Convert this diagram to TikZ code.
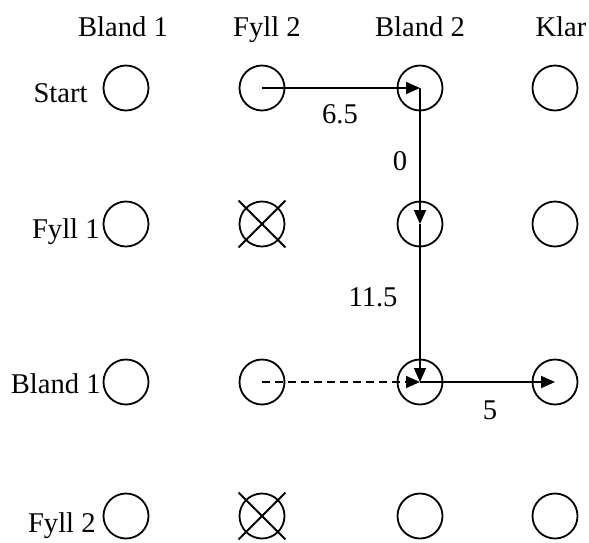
\documentclass[tikz,border=0pt]{standalone}
\usepackage{fontspec}
\setmainfont{Liberation Serif}
\usetikzlibrary{arrows.meta}
\begin{document}
\begin{tikzpicture}[x=0.5pt,y=-0.5pt,
  font=\fontsize{14.3}{17}\selectfont,
  state/.style={draw,circle,minimum size=22.5pt,inner sep=0pt,line width=0.9pt},
  txt/.style={inner sep=0pt},
  rowlabel/.style={inner sep=0pt,anchor=base east},
  head/.style={inner sep=0pt,anchor=base},
  link/.style={line width=0.9pt,-{Triangle[length=7pt,width=6pt]}},
  cross/.style={line width=0.9pt}]
\useasboundingbox (0,0) rectangle (589,542);

% column headings
\node[head] (h1) at (123,36) {Bland 1};
\node[head] (h2) at (267,36) {Fyll 2};
\node[head] (h3) at (420,36) {Bland 2};
\node[head] (h4) at (561,36) {Klar};

% row headings
\node[rowlabel] (r1) at (88,102) {Start};
\node[rowlabel] (r2) at (100,238) {Fyll 1};
\node[rowlabel] (r3) at (101,393) {Bland 1};
\node[rowlabel] (r4) at (96,532) {Fyll 2};

% states
\foreach \r/\y in {1/88,2/224,3/382,4/516}{
  \foreach \c/\x in {1/126,2/262,3/420,4/555}{
    \node[state] (s\r\c) at (\x,\y) {};
  }
}

% blocked states
\foreach \n in {s22,s42}{
  \draw[cross] (\n.center) ++(-11.7pt,11.7pt) -- ++(23.4pt,-23.4pt);
  \draw[cross] (\n.center) ++(-11.7pt,-11.7pt) -- ++(23.4pt,23.4pt);
}

% transitions
\draw[link] (s12.center) -- (s13.center);
\draw[link] (s13.center) -- (s23.center);
\draw[link] (s23.center) -- (s33.center);
\draw[link] (s33.center) -- (s34.center);
\draw[link,dash pattern=on 4pt off 2.5pt] (s32.center) -- (s33.center);

% durations
\node[txt] (d1) at (340,114) {6.5};
\node[txt] (d2) at (400,161) {0};
\node[txt] (d3) at (373,297) {11.5};
\node[txt] (d4) at (490,410) {5};
\end{tikzpicture}
\end{document}
